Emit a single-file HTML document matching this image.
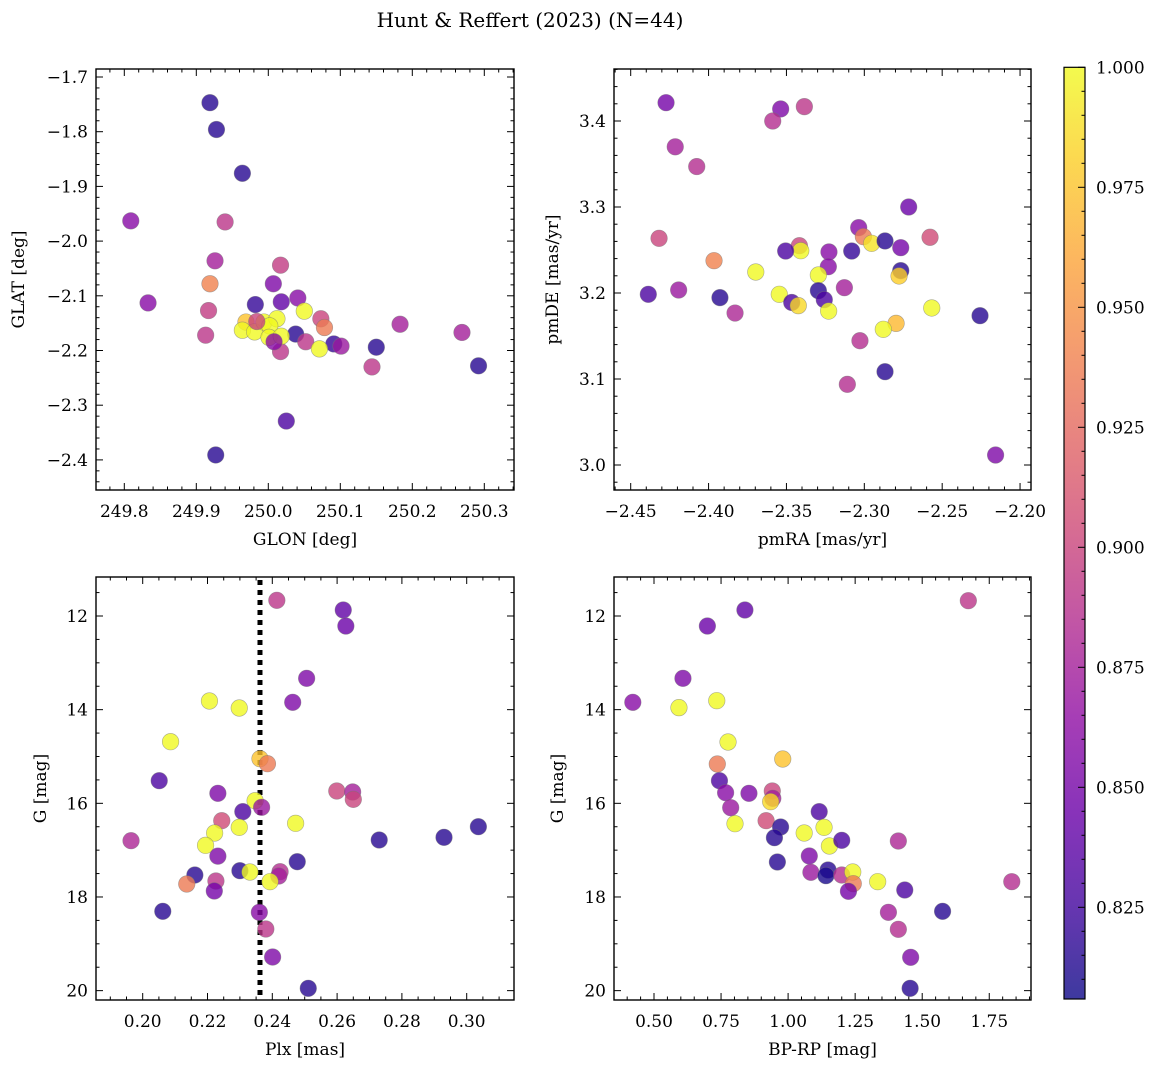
<!DOCTYPE html>
<html><head><meta charset="utf-8"><style>
html,body{margin:0;padding:0;background:#fff;}
svg text{font-family:"DejaVu Serif","Liberation Serif",serif;fill:#000;}
</style></head><body>
<svg id="fig" width="1161" height="1067" viewBox="0 0 1161 1067" xmlns="http://www.w3.org/2000/svg">
<text x="530" y="27" font-size="20" text-anchor="middle">Hunt &amp; Reffert (2023) (N=44)</text>
</svg>
<script>
// Panel 1: GLON/GLAT
const glon=[249.919,249.928,249.964,249.809,249.940,249.926,250.017,250.007,249.919,249.833,249.982,250.018,250.041,249.917,250.050,250.073,250.183,250.078,250.269,249.913,250.038,250.052,250.091,250.101,250.150,250.071,250.017,250.144,250.292,250.025,249.927,249.969,249.964,249.981,249.994,250.012,250.002,250.001,250.018,249.984,250.008];
const glat=[-1.747,-1.796,-1.876,-1.963,-1.965,-2.036,-2.044,-2.078,-2.078,-2.113,-2.116,-2.111,-2.104,-2.127,-2.128,-2.142,-2.152,-2.158,-2.167,-2.172,-2.170,-2.184,-2.188,-2.192,-2.194,-2.197,-2.202,-2.230,-2.228,-2.329,-2.391,-2.148,-2.163,-2.166,-2.148,-2.142,-2.155,-2.176,-2.174,-2.147,-2.184];
const prob1=[0.815,0.815,0.815,0.86,0.89,0.875,0.895,0.855,0.94,0.86,0.82,0.84,0.86,0.895,1.0,0.9,0.875,0.935,0.875,0.89,0.815,0.89,0.82,0.87,0.815,1.0,0.89,0.89,0.815,0.83,0.815,0.975,1.0,1.0,1.0,1.0,1.0,1.0,1.0,0.9,0.86];
// Panel 2: pmRA/pmDE
const pmra=[-2.4273,-2.3537,-2.3385,-2.3588,-2.4214,-2.4076,-2.2715,-2.4318,-2.3036,-2.3006,-2.2953,-2.2867,-2.2578,-2.2766,-2.3417,-2.3408,-2.3505,-2.3227,-2.3081,-2.3231,-2.3965,-2.3697,-2.3295,-2.2766,-2.2777,-2.4387,-2.4192,-2.3927,-2.3830,-2.3546,-2.3466,-2.3424,-2.3295,-2.3257,-2.3229,-2.3128,-2.2567,-2.2796,-2.2878,-2.2257,-2.3028,-2.2867,-2.3109,-2.2157];
const pmde=[3.4213,3.414,3.4167,3.400,3.370,3.347,3.300,3.2636,3.276,3.2655,3.2578,3.2605,3.2648,3.2527,3.255,3.2492,3.2488,3.2477,3.2488,3.2306,3.2376,3.2244,3.2209,3.226,3.2198,3.1985,3.2035,3.1946,3.1767,3.1985,3.189,3.1853,3.2027,3.1922,3.179,3.2062,3.1826,3.1647,3.1578,3.1736,3.1445,3.1085,3.0938,3.0116];
const prob2=[0.85,0.855,0.89,0.885,0.875,0.885,0.845,0.9,0.86,0.935,0.99,0.815,0.905,0.85,0.9,1.0,0.83,0.86,0.82,0.86,0.94,1.0,1.0,0.815,0.98,0.83,0.87,0.815,0.88,1.0,0.83,0.985,0.815,0.83,1.0,0.875,1.0,0.97,1.0,0.815,0.885,0.815,0.885,0.855];
// Panel 3: Plx/G
const plx=[0.2414,0.2619,0.2627,0.2506,0.2206,0.2298,0.2463,0.2086,0.2362,0.2385,0.2051,0.2599,0.2648,0.2650,0.2232,0.2347,0.2367,0.2309,0.2244,0.2298,0.2472,0.2222,0.1964,0.2194,0.2730,0.2930,0.3036,0.2232,0.2477,0.2300,0.2331,0.2424,0.2420,0.2393,0.2161,0.2226,0.2136,0.2221,0.2062,0.2360,0.2380,0.2401,0.2511];
const gmag3=[11.665,11.872,12.214,13.331,13.815,13.965,13.843,14.684,15.047,15.154,15.517,15.737,15.758,15.915,15.786,15.944,16.085,16.178,16.371,16.513,16.427,16.634,16.798,16.897,16.783,16.726,16.499,17.128,17.247,17.439,17.467,17.460,17.552,17.673,17.531,17.659,17.723,17.872,18.306,18.327,18.684,19.282,19.950];
const prob3=[0.89,0.84,0.845,0.855,1.0,1.0,0.855,1.0,0.975,0.935,0.83,0.9,0.875,0.9,0.855,1.0,0.87,0.83,0.905,1.0,1.0,1.0,0.88,1.0,0.815,0.815,0.815,0.855,0.815,0.815,1.0,0.885,0.875,1.0,0.815,0.89,0.935,0.85,0.815,0.86,0.89,0.855,0.815];
const plxRef=[0.2362];
// Panel 4: BP-RP/G
const bprp=[1.672,0.839,0.699,0.608,0.421,0.734,0.593,0.776,0.980,0.736,0.744,0.767,0.854,0.941,0.943,0.935,0.786,1.116,0.802,0.918,0.972,0.949,1.060,1.134,1.154,1.200,1.411,0.960,1.079,1.085,1.149,1.141,1.200,1.241,1.243,1.225,1.334,1.834,1.435,1.576,1.374,1.411,1.457,1.455];
const gmag4=[11.673,11.872,12.214,13.331,13.843,13.808,13.957,14.691,15.054,15.161,15.517,15.773,15.786,15.737,15.893,15.965,16.093,16.178,16.435,16.371,16.506,16.734,16.634,16.513,16.911,16.790,16.805,17.253,17.125,17.473,17.424,17.545,17.531,17.467,17.716,17.879,17.673,17.673,17.851,18.306,18.327,18.690,19.288,19.950];
const prob4=[0.89,0.84,0.845,0.855,0.86,1.0,1.0,1.0,0.975,0.935,0.83,0.86,0.855,0.9,0.875,0.985,0.87,0.83,1.0,0.905,0.815,0.815,1.0,1.0,1.0,0.83,0.88,0.815,0.855,0.87,0.815,0.81,0.885,1.0,0.935,0.85,1.0,0.885,0.83,0.815,0.875,0.885,0.855,0.815];
const ticks1x=[249.8,249.9,250.0,250.1,250.2,250.3], ticks1y=[-1.7,-1.8,-1.9,-2.0,-2.1,-2.2,-2.3,-2.4];
const ticks2x=[-2.45,-2.40,-2.35,-2.30,-2.25,-2.20], ticks2y=[3.0,3.1,3.2,3.3,3.4];
const ticks3x=[0.20,0.22,0.24,0.26,0.28,0.30], ticksGy=[12,14,16,18,20];
const ticks4x=[0.50,0.75,1.00,1.25,1.50,1.75];
const cbTicks=[1.000,0.975,0.950,0.925,0.900,0.875,0.850,0.825];
const VMIN=0.806, VMAX=1.0;

const NS="http://www.w3.org/2000/svg";
const svg=document.getElementById('fig');
function mk(tag,attrs,parent){const e=document.createElementNS(NS,tag);for(const k in attrs)e.setAttribute(k,attrs[k]);(parent||svg).appendChild(e);return e;}
const plasma=[[13,8,135],[65,4,157],[106,0,168],[143,13,164],[177,42,144],[204,71,120],[225,100,98],[242,132,75],[252,166,54],[252,206,37],[240,249,33]];
function cmap(v){let t=(v-VMIN)/(VMAX-VMIN);t=Math.max(0,Math.min(1,t));const f=t*10,i=Math.min(9,Math.floor(f)),r=f-i;const a=plasma[i],b=plasma[i+1];return 'rgb('+a.map((c,k)=>Math.round(c+(b[k]-c)*r)).join(',')+')';}
function fmt(v,d){return (v<0?'\u2212':'')+Math.abs(v).toFixed(d);}

function panel(c,xs,ys,ps){
  const g=mk('g',{});
  
  
  const sx=v=>c.x0+(v-c.xv0)*c.xs, sy=v=>c.y0-(v-c.yv0)*c.ys;
  // minor & major ticks
  const tk=mk('g',{stroke:'#000','stroke-width':1},g);
  
  
  const xlo=c.xv0+(c.L-c.x0)/c.xs, xhi=c.xv0+(c.R-c.x0)/c.xs;
  for(let k=Math.ceil(xlo/c.xmin-1e-6);k*c.xmin<=xhi+1e-9;k++){const v=k*c.xmin,px=sx(v);const maj=Math.abs(v/c.xmaj-Math.round(v/c.xmaj))<1e-6;const L=maj?7:3.5;
    mk('line',{x1:px,x2:px,y1:c.B,y2:c.B-L},tk);mk('line',{x1:px,x2:px,y1:c.T,y2:c.T+L},tk);}
  const yhi=c.yv0+(c.y0-c.T)/c.ys, ylo=c.yv0+(c.y0-c.B)/c.ys;
  const ya=Math.min(ylo,yhi), yb=Math.max(ylo,yhi);
  for(let k=Math.ceil(ya/c.ymin-1e-6);k*c.ymin<=yb+1e-9;k++){const v=k*c.ymin,py=sy(v);const maj=Math.abs(v/c.ymaj-Math.round(v/c.ymaj))<1e-6;const L=maj?7:3.5;
    mk('line',{x1:c.L,x2:c.L+L,y1:py,y2:py},tk);mk('line',{x1:c.R,x2:c.R-L,y1:py,y2:py},tk);}
  c.xt.forEach(v=>{const t=mk('text',{x:sx(v),y:c.B+27,'font-size':17,'text-anchor':'middle'},g);t.textContent=fmt(v,c.xd);
    
    });
  c.yt.forEach(v=>{const t=mk('text',{x:c.L-8,y:sy(v)+6,'font-size':17,'text-anchor':'end'},g);t.textContent=fmt(v,c.yd);
    
    });
  const xl=mk('text',{x:(c.L+c.R)/2,y:c.B+55,'font-size':17,'text-anchor':'middle'},g);xl.textContent=c.xlab;
  
  
  const yl=mk('text',{x:0,y:0,'font-size':17,'text-anchor':'middle',transform:`translate(${c.ylx},${(c.T+c.B)/2}) rotate(-90)`},g);yl.textContent=c.ylab;
  
  
  if(c.vline){c.vline.forEach(v=>{const l=mk('line',{x1:sx(v),x2:sx(v),y1:c.T+3,y2:c.B,stroke:'#000','stroke-width':5,'stroke-dasharray':'5,5'},g);
    
    });}
  xs.forEach((v,i)=>{const p=mk('circle',{cx:sx(v),cy:sy(ys[i]),r:8.3,fill:cmap(ps[i]),'fill-opacity':0.8,stroke:'#777','stroke-opacity':0.6,'stroke-width':0.6},g);
    
    });
  const fr=mk('rect',{x:c.L,y:c.T,width:c.R-c.L,height:c.B-c.T,fill:'none',stroke:'#000','stroke-width':1.4},g);
  
  
}
panel({name:'glon-glat-panel',L:96,R:514,T:69,B:490,x0:124.3,xv0:249.8,xs:720,y0:131.7,yv0:-1.8,ys:547,xmin:0.02,xmaj:0.1,ymin:0.02,ymaj:0.1,xt:ticks1x,yt:ticks1y,xd:1,yd:1,xlab:'GLON [deg]',ylab:'GLAT [deg]',ylx:24},glon,glat,prob1);
panel({name:'proper-motion-panel',L:614,R:1031,T:69,B:490,x0:630.7,xv0:-2.45,xs:1557.4,y0:465,yv0:3.0,ys:860,xmin:0.01,xmaj:0.05,ymin:0.02,ymaj:0.1,xt:ticks2x,yt:ticks2y,xd:2,yd:1,xlab:'pmRA [mas/yr]',ylab:'pmDE [mas/yr]',ylx:558},pmra,pmde,prob2);
panel({name:'parallax-mag-panel',L:96,R:514,T:577,B:1000,x0:142.7,xv0:0.20,xs:3240,y0:616,yv0:12,ys:-46.83,xmin:0.005,xmaj:0.02,ymin:0.5,ymaj:2,xt:ticks3x,yt:ticksGy,xd:2,yd:0,xlab:'Plx [mas]',ylab:'G [mag]',ylx:46,vline:plxRef},plx,gmag3,prob3);
panel({name:'cmd-panel',L:614,R:1031,T:577,B:1000,x0:654,xv0:0.5,xs:268.2,y0:616,yv0:12,ys:-46.83,xmin:0.05,xmaj:0.25,ymin:0.5,ymaj:2,xt:ticks4x,yt:ticksGy,xd:2,yd:0,xlab:'BP-RP [mag]',ylab:'G [mag]',ylx:563},bprp,gmag4,prob4);

// colorbar
const cbT=67.3,cbB=999,cbL=1064,cbR=1085,cbS=4800;
const defs=mk('defs',{});
const lg=mk('linearGradient',{id:'cbg',x1:0,y1:1,x2:0,y2:0},defs);
for(let i=0;i<=20;i++){const v=VMIN+(VMAX-VMIN)*i/20;mk('stop',{offset:i/20,'stop-color':cmap(v),'stop-opacity':0.8},lg);}
const cb=mk('rect',{x:cbL,y:cbT,width:cbR-cbL,height:cbB-cbT,fill:'url(#cbg)',stroke:'#000','stroke-width':1.2});


for(let v=0.810;v<=1.0001;v+=0.005){const py=cbT+(1-v)*cbS;const maj=Math.abs(v*40-Math.round(v*40))<1e-6;
  mk('line',{x1:cbR,x2:cbR-(maj?7:3.5),y1:py,y2:py,stroke:'#000','stroke-width':1});}
cbTicks.forEach(v=>{const t=mk('text',{x:cbR+11,y:cbT+(1-v)*cbS+6,'font-size':17});t.textContent=v.toFixed(3);
  
  });
</script>
</body></html>
